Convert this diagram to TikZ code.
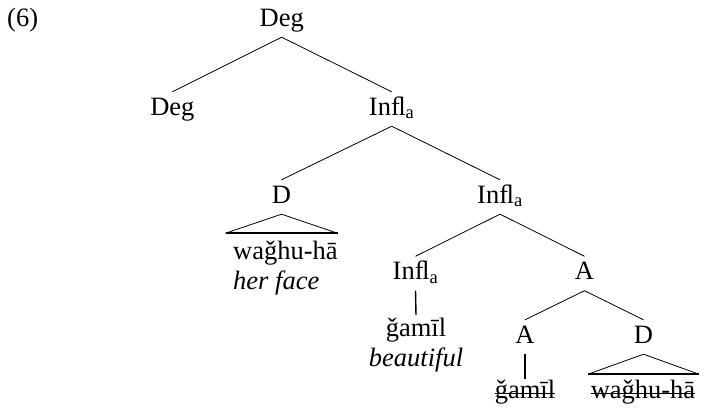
\documentclass[tikz,border=0pt]{standalone}
\usepackage{fontspec}
\setmainfont{Liberation Serif}
\usetikzlibrary{positioning}
\newcommand{\infl}{In^^^^fb02\textsubscript{a}}

\begin{document}
\begin{tikzpicture}[
  x=1pt, y=-1pt,
  font=\fontsize{26.5}{30}\selectfont,
  cat/.style={anchor=base, inner xsep=0pt, inner ysep=5.3pt, text height=17.7pt, text depth=5.7pt},
  leaf/.style={anchor=north, inner sep=0pt, align=center},
  branch/.style={line width=0.8pt},
  stem/.style={line width=1.4pt},
  roofbase/.style={line width=1.8pt},
  strike/.style={line width=1.4pt}
]
\useasboundingbox (0,0) rectangle (701,410);
\node[anchor=base west, inner sep=0pt] (ex) at (7,26) {(6)};

% categories
\node[cat] (deg0) at (281.7,26) {Deg};
\node[cat] (deg1) at (172.4,115) {Deg};
\node[cat] (infl1) at (391.7,115) {\infl};
\node[cat] (d1) at (281.5,203) {D};
\node[cat] (infl2) at (500,203) {\infl};
\node[cat] (infl3) at (415.5,279.5) {\infl};
\node[cat] (a1) at (584.5,279.5) {A};
\node[cat] (a2) at (525,343) {A};
\node[cat] (d2) at (643.5,343) {D};

% words
\node[leaf, anchor=north west, align=left] (wd1) at (233,241) {waǧhu-hā\\\textit{her face}};
\node[leaf] (winfl3) at (416,318) {ǧamīl\\\textit{beautiful}};
\node[leaf] (wa2) at (525,380) {ǧamīl};
\node[leaf] (wd2) at (643,380) {waǧhu-hā};

% branches
\draw[branch] (deg0.south) -- (deg1.north);
\draw[branch] (deg0.south) -- (infl1.north);
\draw[branch] (infl1.south) -- (d1.north);
\draw[branch] (infl1.south) -- (infl2.north);
\draw[branch] (infl2.south) -- (infl3.north);
\draw[branch] (infl2.south) -- (a1.north);
\draw[branch] (a1.south) -- (a2.north);
\draw[branch] (a1.south) -- (d2.north);
\draw[stem] (infl3.south) -- ([yshift=3pt]winfl3.north);
\draw[stem] (a2.south) -- ([yshift=1pt]wa2.north);

% roofs
\draw[branch] (d1.south) -- ++(-56,19) coordinate (d1l);
\draw[branch] (d1.south) -- ++(56,19) coordinate (d1r);
\draw[roofbase] (d1l) -- (d1r);
\draw[branch] (d2.south) -- ++(-55.5,20) coordinate (d2l);
\draw[branch] (d2.south) -- ++(55.5,20) coordinate (d2r);
\draw[roofbase] (d2l) -- (d2r);

% struck-out copies
\draw[strike] ([yshift=5pt]wa2.base west) -- ([yshift=5pt]wa2.base east);
\draw[strike] ([yshift=5pt]wd2.base west) -- ([yshift=5pt]wd2.base east);
\end{tikzpicture}
\end{document}
